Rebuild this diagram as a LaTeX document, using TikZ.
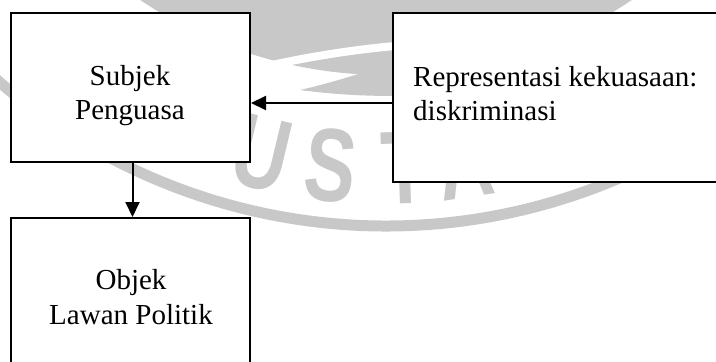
\documentclass[tikz,border=0pt]{standalone}
\usepackage{fontspec}
\setmainfont{Liberation Serif}
\newfontfamily\wmfont{Liberation Sans}
\usetikzlibrary{arrows.meta}
\definecolor{wmgray}{RGB}{200,200,200}
\newcommand\wmglyph[1]{\scalebox{0.74}[1]{\wmfont\bfseries\fontsize{104pt}{104pt}\selectfont #1}}
\begin{document}
\begin{tikzpicture}[x=1pt,y=-1pt,
  box/.style={draw=black, line width=2pt, fill=white, inner sep=0pt},
  txt/.style={inner sep=0pt, text height=21pt, text depth=7pt,
    font=\fontsize{29}{34}\selectfont},
  link/.style={line width=2pt, -{Triangle[length=15pt,width=14pt]}},
  wmletter/.style={text=wmgray, inner sep=0pt, anchor=base}
]
\useasboundingbox (0,0) rectangle (716,362);
\clip (0,0) rectangle (716,362);

% background seal: inner disc with a light swoosh, lettering and outer ring
\coordinate (wc) at (386,-365);
\fill[wmgray] (wc) circle[radius=440];
\draw[white, line width=8pt] (250,70) .. controls (300,58) and (350,50) .. (395,46);
\fill[wmgray] (300,90) .. controls (335,82) and (365,72) .. (395,62)
  -- (395,96) .. controls (360,96) and (330,94) .. (300,90) -- cycle;
\draw[wmgray, line width=11pt] (wc) ++(140:591) arc[start angle=140, end angle=40, radius=591];
\path (wc) ++(103.5:569) node[wmletter, rotate=-13.5] (wmU) {\wmglyph{U}};
\path (wc) ++(96:569) node[wmletter, rotate=-6] (wmS) {\wmglyph{S}};
\path (wc) ++(88:569) node[wmletter, rotate=2] (wmT) {\wmglyph{T}};
\path (wc) ++(81.5:569) node[wmletter, rotate=8.5] (wmA) {\wmglyph{A}};

% boxes
\node[box, minimum width=239pt, minimum height=149pt] (b1) at (130.5,87.5) {};
\node[box, minimum width=347pt, minimum height=169pt] (b2) at (566.5,97.5) {};
\node[box, minimum width=239pt, minimum height=182pt] (b3) at (130.5,309) {};

% labels
\node[txt, anchor=base] (t1a) at (130,85) {Subjek};
\node[txt, anchor=base] (t1b) at (130,119.5) {Penguasa};
\node[txt, anchor=base west] (t2a) at (413,86) {Representasi kekuasaan:};
\node[txt, anchor=base west] (t2b) at (413,120) {diskriminasi};
\node[txt, anchor=base] (t3a) at (131,289) {Objek};
\node[txt, anchor=base] (t3b) at (131,324) {Lawan Politik};

% connectors
\coordinate (ay) at (0,103);
\draw[link] (b2.west |- ay) -- (b1.east |- ay);
\draw[link] ([xshift=2pt]b1.south) -- ([xshift=2pt]b3.north);
\end{tikzpicture}
\end{document}
